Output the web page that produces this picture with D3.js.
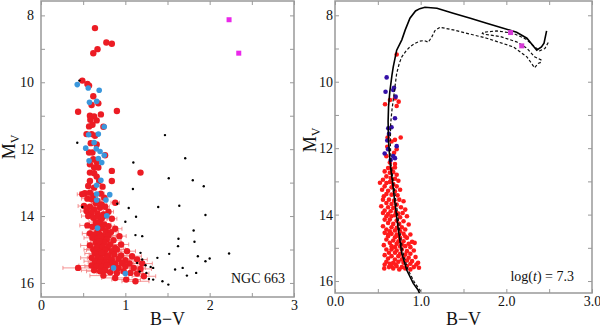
<!DOCTYPE html>
<html>
<head>
<meta charset="utf-8">
<script src="https://cdn.jsdelivr.net/npm/d3@7"></script>
<style>
body { margin: 0; background: #fff; }
svg text { font-family: "Liberation Serif", "DejaVu Serif", serif; fill: #111; }
</style>
</head>
<body>
<div id="chart"></div>
<script>
// ---- data: [B-V, Mv, err] ----
const leftRed = [
  [0.64,8.38,0],[0.775,8.81,0],[0.84,8.85,0],[0.67,9.01,0],[0.62,9.13,0],
  [0.49,9.95,0],[0.55,10.05,0],[0.57,10.1,0],[0.62,10.42,0],[0.60,10.68,0],[0.68,10.63,0],[0.44,10.88,0],[0.90,10.86,0],
  [0.58,11.0,0],[0.63,11.02,0],[0.71,10.96,0],[0.585,11.12,0],[0.66,11.14,0],[0.57,11.32,0],[0.74,11.33,0],[0.61,11.27,0],
  [0.54,11.55,0],[0.60,11.55,0],[0.64,11.6,0],[0.59,11.82,0],[0.66,11.86,0],[0.57,12.1,0],[0.61,12.1,0],[0.76,12.18,0],
  [0.62,12.3,0],[0.66,12.38,0],[0.58,12.45,0],[0.63,12.55,0],[0.68,12.55,0],[0.84,12.65,0],[1.18,12.7,0],[0.58,12.7,0],
  [0.63,12.72,0],[0.66,12.82,0],[0.58,12.95,0],[0.69,12.95,0],[0.84,12.95,0],[0.56,13.1,0],[0.63,13.15,0],[0.73,13.12,0],
  [0.52,13.32,0.06],[0.58,13.3,0.04],[0.62,13.4,0.05],[0.71,13.33,0.04],[0.55,13.48,0.07],[0.67,13.55,0.05],[0.75,13.45,0.04],
  [0.88,13.6,0.05],[0.51,13.7,0.07],[0.58,13.72,0.05],[0.63,13.8,0.06],[0.70,13.75,0.05],[0.76,13.72,0.05],[0.67,13.92,0.06],
  [0.80,13.87,0.06],[0.60,13.5,0.06],[0.65,13.62,0.05],[0.72,13.65,0.06],[0.54,13.85,0.07],[0.60,13.9,0.07],[0.74,13.95,0.06],
  [0.49,13.35,0.06],
  [0.56,14.0,0.08],[0.62,14.05,0.06],[0.68,14.02,0.07],[0.72,14.08,0.07],[0.84,14.08,0.06],[0.65,14.18,0.08],[0.70,14.2,0.07],
  [0.75,14.25,0.08],[0.55,14.28,0.09],[0.61,14.32,0.08],[0.66,14.3,0.07],[0.73,14.35,0.08],[0.80,14.3,0.07],[0.88,14.38,0.08],
  [0.68,14.42,0.09],[0.77,14.45,0.08],[0.83,14.48,0.09],[0.67,14.45,0.09],[0.70,14.35,0.08],[0.74,14.0,0.07],
  [0.58,14.52,0.09],[0.64,14.55,0.1],[0.70,14.55,0.09],[0.74,14.6,0.1],[0.80,14.58,0.09],[0.93,14.6,0.08],[0.61,14.65,0.1],
  [0.67,14.68,0.09],[0.72,14.72,0.1],[0.78,14.7,0.1],[0.86,14.72,0.09],[0.65,14.8,0.1],[0.70,14.82,0.11],[0.75,14.8,0.1],
  [0.82,14.85,0.1],[0.95,14.85,0.09],[0.58,14.88,0.11],[0.68,14.9,0.1],[0.73,14.92,0.1],[0.79,14.95,0.11],[0.88,14.95,0.1],
  [0.71,14.62,0.1],[0.69,14.75,0.1],[0.66,14.95,0.11],
  [0.62,15.0,0.11],[0.66,15.02,0.12],[0.71,15.05,0.11],[0.76,15.02,0.12],[0.84,15.05,0.11],[0.90,15.0,0.1],[1.02,15.05,0.1],
  [0.64,15.12,0.12],[0.69,15.15,0.12],[0.74,15.12,0.11],[0.80,15.18,0.12],[0.87,15.15,0.11],[0.95,15.18,0.12],[1.08,15.2,0.11],
  [0.60,15.25,0.13],[0.67,15.25,0.12],[0.72,15.28,0.13],[0.78,15.25,0.12],[0.84,15.3,0.12],[0.92,15.28,0.13],[1.0,15.32,0.12],
  [1.14,15.3,0.12],[0.72,15.1,0.12],
  [0.64,15.35,0.13],[0.70,15.38,0.14],[0.76,15.4,0.13],[0.82,15.38,0.14],[0.88,15.42,0.13],[0.96,15.4,0.14],[1.05,15.42,0.13],
  [1.20,15.42,0.12],[0.44,15.55,0.18],[0.60,15.48,0.15],[0.66,15.5,0.14],[0.72,15.52,0.15],[0.78,15.48,0.14],[0.85,15.52,0.15],
  [0.92,15.55,0.14],[1.0,15.5,0.15],[1.1,15.55,0.14],[1.18,15.58,0.13],[0.63,15.62,0.15],[0.70,15.65,0.16],[0.76,15.62,0.15],
  [0.82,15.68,0.16],[0.90,15.7,0.15],[0.98,15.65,0.16],[1.06,15.7,0.15],[1.14,15.72,0.14],[0.74,15.78,0.16],[0.88,15.85,0.16],
  [1.01,15.9,0.17],[1.12,15.95,0.16],[1.22,15.8,0.14]
];

const leftBlue = [
  [0.43,10.07],[0.56,10.17],[0.69,10.24],[0.575,10.6],[0.66,10.57],[0.75,11.33],[0.565,11.57],[0.68,11.55],[0.63,11.8],
  [0.53,11.97],[0.655,11.99],[0.70,12.07],[0.75,12.18],[0.68,12.28],[0.72,12.4],[0.57,12.35],[0.71,12.93],[0.66,13.08],
  [0.815,13.36],[0.66,13.34],[0.66,13.52],[0.77,13.52],[0.78,13.99],[0.67,14.36],[0.86,15.55],[1.0,15.72]
];

const leftField = [
  [0.455,9.95],[0.43,11.81],[1.47,11.58],[1.095,12.4],[1.71,12.27],[1.515,12.87],[1.80,12.93],[1.93,13.11],[1.09,13.19],
  [0.905,13.63],[0.49,13.73],[1.04,13.76],[1.39,13.73],[1.64,13.69],[1.127,14.02],[1.95,13.97],[1.0,14.17],[1.81,14.43],
  [1.12,14.57],[1.20,14.6],[1.63,14.68],[1.82,14.77],[1.625,14.9],[1.18,15.1],[1.52,15.13],[2.23,15.12],[1.38,15.25],
  [1.86,15.2],[2.0,15.27],[1.95,15.35],[1.14,15.4],[1.24,15.47],[1.30,15.52],[1.33,15.55],[1.59,15.6],[1.68,15.55],
  [1.84,15.7],[1.73,15.78],[1.17,15.66],[1.25,15.7],[1.28,15.88],[1.33,15.9],[1.44,15.95],[1.51,16.05],[1.20,15.3]
];

const leftGiants = [[2.23,8.13],[2.345,9.13]];

const rightRed = [
  [0.72,9.18],[0.584,10.68],[0.642,10.55],[0.70,10.5],[0.743,10.6],[0.72,10.73],[0.614,11.68],[0.66,11.8],[0.767,11.68],
  [0.70,11.75],[0.61,11.96],[0.72,12.03],[0.69,12.14],[0.60,12.24],[0.64,12.43],[0.70,12.48],
  [0.62,12.6],[0.66,12.62],[0.70,12.58],[0.58,12.7],[0.64,12.74],[0.68,12.72],[0.72,12.8],[0.60,12.85],[0.65,12.9],
  [0.70,12.92],[0.56,12.95],[0.74,12.98],
  [0.525,13.04],[0.60,13.05],[0.64,13.02],[0.68,13.08],[0.58,13.15],[0.66,13.18],[0.72,13.15],[0.55,13.25],[0.62,13.28],
  [0.70,13.3],[0.76,13.25],[0.60,13.38],[0.66,13.4],[0.73,13.42],[0.57,13.45],
  [0.56,13.55],[0.63,13.55],[0.69,13.58],[0.75,13.55],[0.80,13.6],[0.60,13.65],[0.66,13.68],[0.72,13.7],[0.54,13.75],
  [0.62,13.78],[0.68,13.8],[0.77,13.78],[0.82,13.85],[0.58,13.88],[0.65,13.9],[0.71,13.92],[0.74,13.97],[0.62,13.98],
  [0.79,13.95],[0.56,13.95],
  [0.60,14.05],[0.66,14.05],[0.70,14.02],[0.76,14.08],[0.84,14.05],[0.58,14.15],[0.64,14.15],[0.72,14.18],[0.80,14.2],
  [0.62,14.25],[0.68,14.28],[0.75,14.28],[0.86,14.3],[0.56,14.35],[0.66,14.38],[0.72,14.4],[0.78,14.38],[0.82,14.45],
  [0.60,14.45],[0.70,14.48],[0.76,14.5],[0.64,14.5],
  [0.58,14.55],[0.66,14.58],[0.72,14.6],[0.80,14.58],[0.88,14.6],[0.62,14.65],[0.70,14.68],[0.76,14.7],[0.84,14.7],
  [0.60,14.75],[0.68,14.78],[0.74,14.8],[0.80,14.8],[0.90,14.82],[0.64,14.85],[0.72,14.88],[0.78,14.9],[0.86,14.88],
  [0.57,14.92],[0.66,14.95],[0.82,14.95],[0.93,14.85],[0.70,14.98],[0.76,14.96],[0.88,14.98],[0.62,14.6],[0.74,14.64],[0.82,14.66],
  [0.60,15.05],[0.66,15.05],[0.72,15.08],[0.78,15.05],[0.84,15.1],[0.92,15.08],[0.63,15.15],[0.70,15.15],[0.76,15.18],
  [0.82,15.2],[0.88,15.18],[0.58,15.22],[0.66,15.25],[0.74,15.25],[0.80,15.28],[0.86,15.3],[0.94,15.28],[0.62,15.32],
  [0.70,15.35],[0.78,15.35],[0.84,15.38],[0.90,15.4],[0.60,15.42],[0.68,15.45],[0.74,15.42],[0.80,15.45],[0.88,15.48],
  [0.95,15.5],[0.64,15.48],[0.97,15.45],
  [0.58,15.5],[0.575,15.62],[0.66,15.55],[0.72,15.55],[0.78,15.58],[0.84,15.55],[0.92,15.58],[0.98,15.6],[0.68,15.62],
  [0.75,15.65],[0.82,15.62],[0.88,15.65],[0.71,15.5],[0.63,15.58]
];

const rightBlue = [
  [0.603,9.87],[0.59,10.30],[0.689,10.18],[0.68,10.25],[0.708,10.45],[0.70,11.10],[0.622,11.40],[0.66,11.37],[0.63,11.57],
  [0.61,11.77],[0.72,11.94],[0.58,12.16],[0.62,12.03],[0.68,12.24],[0.65,12.36],[0.70,12.3]
];

const rightGiants = [[2.05,8.52],[2.18,8.92]];

// isochrone log(t)=7.3 (solid) and neighbours (dashed)
const isoSolid = [
  [1.00,16.45],[0.97,16.27],[0.914,16.07],[0.837,15.67],[0.78,15.17],[0.74,14.47],[0.70,13.66],[0.67,13.0],[0.645,12.5],
  [0.625,11.8],[0.62,11.2],[0.625,10.75],[0.64,10.3],[0.665,9.8],[0.68,9.55],[0.72,9.05],[0.78,8.74],[0.82,8.44],
  [0.875,8.09],[0.94,7.87],[0.99,7.80],[1.05,7.76],[1.19,7.79],[1.38,7.94],[1.58,8.09],[1.77,8.24],[1.965,8.39],
  [2.12,8.51],[2.24,8.69],[2.355,9.05],[2.41,8.95],[2.44,8.84],[2.47,8.47]
];
const isoDashA = [
  [1.02,16.45],[0.99,16.27],[0.93,16.05],[0.85,15.65],[0.795,15.17],[0.755,14.47],[0.715,13.66],[0.68,13.0],[0.655,12.5],
  [0.645,11.8],[0.65,11.25],[0.665,10.85],[0.68,10.55],[0.70,10.15],[0.72,9.75],[0.75,9.45],[0.78,9.25],[0.83,9.07],
  [0.875,8.95],[0.93,8.85],[0.99,8.78],[1.04,8.76],[1.09,8.81],[1.13,8.65],[1.167,8.46],[1.226,8.36],[1.38,8.44],
  [1.77,8.69],[2.08,8.95],[2.24,9.25],[2.33,9.58],[2.37,9.45],[2.42,9.40]
];
const isoDashB = [
  [2.41,9.35],[2.33,9.25],[2.24,8.99],[2.12,8.8],[1.93,8.64],[1.74,8.57],[1.72,8.54],[1.73,8.51],[1.89,8.47],
  [2.08,8.54],[2.23,8.72],[2.33,8.95],[2.39,9.07],[2.45,9.0],[2.50,8.77]
];

(function(){

  const svg = d3.select("#chart").append("svg").attr("width", 600).attr("height", 328);

  const frameColor = "#999";
  const serif = "'Liberation Serif', 'DejaVu Serif', serif";

  function makePanel(opt){
    const x = d3.scaleLinear().domain([0, 3]).range([opt.left, opt.right]);
    const y = d3.scaleLinear().domain(opt.ydom).range([opt.top, opt.bottom]);
    const g = svg.append("g");

    g.append("clipPath").attr("id", opt.id).append("rect")
      .attr("x", opt.left).attr("y", opt.top)
      .attr("width", opt.right - opt.left).attr("height", opt.bottom - opt.top);

    const xt = d3.range(0, 3.01, 0.5);
    const yt = d3.range(8, 16.01, 1);
    const xFmt = d => Number.isInteger(d) ? (opt.xDec ? d.toFixed(1) : d) : "";
    const yFmt = d => d % 2 === 0 ? d : "";

    const axes = [
      g.append("g").attr("transform", `translate(0,${opt.bottom})`)
        .call(d3.axisBottom(x).tickValues(xt).tickFormat(xFmt).tickSizeInner(-4).tickSizeOuter(0).tickPadding(3)),
      g.append("g").attr("transform", `translate(0,${opt.top})`)
        .call(d3.axisTop(x).tickValues(xt).tickFormat("").tickSizeInner(-4).tickSizeOuter(0)),
      g.append("g").attr("transform", `translate(${opt.left},0)`)
        .call(d3.axisLeft(y).tickValues(yt).tickFormat(yFmt).tickSizeInner(-4).tickSizeOuter(0).tickPadding(opt.yPad)),
      g.append("g").attr("transform", `translate(${opt.right},0)`)
        .call(d3.axisRight(y).tickValues(yt).tickFormat("").tickSizeInner(-4).tickSizeOuter(0))
    ];
    axes.forEach(a => {
      a.attr("font-family", null);
      a.select(".domain").remove();
      a.selectAll(".tick line").attr("stroke", frameColor).attr("stroke-width", 1);
      a.selectAll(".tick text").style("font-family", serif).style("font-size", "14px").attr("fill", "#111");
    });

    g.append("rect").attr("x", opt.left).attr("y", opt.top)
      .attr("width", opt.right - opt.left).attr("height", opt.bottom - opt.top)
      .attr("fill", "none").attr("stroke", frameColor).attr("stroke-width", 1.5);

    // axis titles
    g.append("text").attr("x", (opt.left + opt.right) / 2).attr("y", 325)
      .attr("text-anchor", "middle").attr("font-size", 18).text("B\u2212V");

    const yl = g.append("text")
      .attr("transform", `translate(${opt.ylabX},${opt.ylabY}) rotate(-90)`)
      .attr("text-anchor", "middle").attr("font-size", 18);
    yl.append("tspan").text("M");
    yl.append("tspan").attr("font-size", 12).attr("dy", 4).text("V");

    const plot = g.append("g").attr("clip-path", `url(#${opt.id})`);
    return {x, y, g, plot};
  }

  // ---- left panel: NGC 663 CMD ----
  const L = makePanel({id: "clipL", left: 41, right: 294, top: 1, bottom: 297, ydom: [7.57, 16.42],
    xDec: false, yPad: 7, ylabX: 15, ylabY: 147});

  const errCol = "#f27a7a";
  const eb = L.plot.append("g").attr("stroke", errCol).attr("stroke-width", 0.8);
  leftRed.filter(d => d[2] > 0).forEach(function(d){
    const y0 = L.y(d[1]);
    eb.append("line").attr("x1", L.x(d[0] - d[2])).attr("x2", L.x(d[0] + d[2])).attr("y1", y0).attr("y2", y0);
    eb.append("line").attr("x1", L.x(d[0] - d[2])).attr("x2", L.x(d[0] - d[2])).attr("y1", y0 - 2).attr("y2", y0 + 2);
    eb.append("line").attr("x1", L.x(d[0] + d[2])).attr("x2", L.x(d[0] + d[2])).attr("y1", y0 - 2).attr("y2", y0 + 2);
  });

  L.plot.append("g").selectAll("circle").data(leftRed).join("circle")
    .attr("cx", d => L.x(d[0])).attr("cy", d => L.y(d[1])).attr("r", 3.2).attr("fill", "#ec1c24");

  L.plot.append("g").selectAll("circle").data(leftField).join("circle")
    .attr("cx", d => L.x(d[0])).attr("cy", d => L.y(d[1])).attr("r", 1.2).attr("fill", "#000");

  L.plot.append("g").selectAll("circle").data(leftBlue).join("circle")
    .attr("cx", d => L.x(d[0])).attr("cy", d => L.y(d[1])).attr("r", 2.8).attr("fill", "#3a97dc");

  L.plot.append("g").selectAll("rect").data(leftGiants).join("rect")
    .attr("x", d => L.x(d[0]) - 2.5).attr("y", d => L.y(d[1]) - 2.5).attr("width", 5).attr("height", 5).attr("fill", "#ea28ea");

  L.g.append("text").attr("x", 285).attr("y", 283).attr("text-anchor", "end").attr("font-size", 14).text("NGC 663");

  // ---- right panel: isochrone fit ----
  const R = makePanel({id: "clipR", left: 335, right: 592, top: 1, bottom: 293, ydom: [7.57, 16.36],
    xDec: true, yPad: 2, ylabX: 316, ylabY: 140});

  const line = d3.line().x(d => R.x(d[0])).y(d => R.y(d[1])).curve(d3.curveLinear);

  R.plot.append("g").selectAll("circle").data(rightRed).join("circle")
    .attr("cx", d => R.x(d[0])).attr("cy", d => R.y(d[1])).attr("r", 2.3).attr("fill", "#ff1a1a");
  R.plot.append("g").selectAll("circle").data(rightBlue).join("circle")
    .attr("cx", d => R.x(d[0])).attr("cy", d => R.y(d[1])).attr("r", 2.3).attr("fill", "#3410a8");

  [isoDashA, isoDashB].forEach(function(c){
    R.plot.append("path").datum(c).attr("d", line).attr("fill", "none")
      .attr("stroke", "#111").attr("stroke-width", 1.2).attr("stroke-dasharray", "3,2");
  });
  R.plot.append("path").datum(isoSolid).attr("d", line).attr("fill", "none")
    .attr("stroke", "#000").attr("stroke-width", 1.6);

  R.plot.append("g").selectAll("rect").data(rightGiants).join("rect")
    .attr("x", d => R.x(d[0]) - 2.5).attr("y", d => R.y(d[1]) - 2.5).attr("width", 5).attr("height", 5).attr("fill", "#d63ad6");

  const lt = R.g.append("text").attr("x", 574).attr("y", 281).attr("text-anchor", "end").attr("font-size", 14);
  lt.append("tspan").text("log(");
  lt.append("tspan").attr("font-style", "italic").text("t");
  lt.append("tspan").text(") = 7.3");

})();
</script>
</body>
</html>
